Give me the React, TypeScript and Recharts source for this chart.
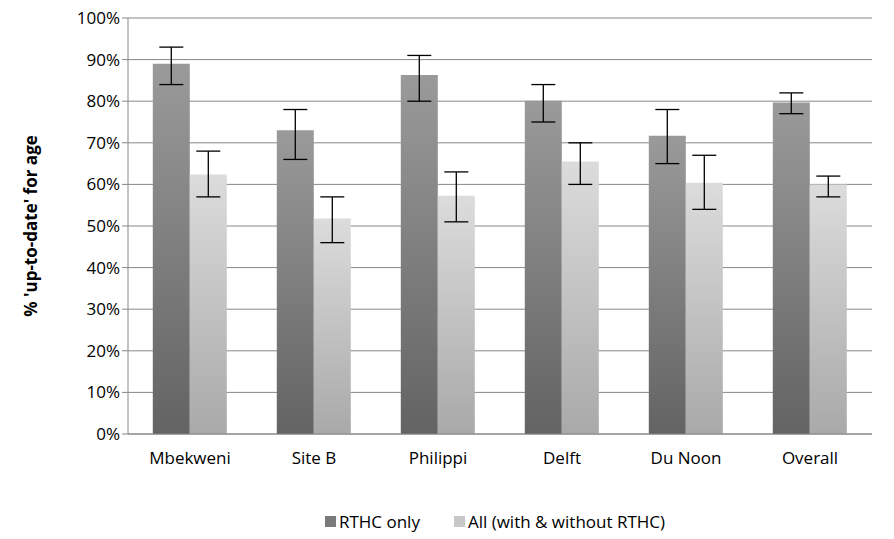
import React from 'react';
import { BarChart, Bar, XAxis, YAxis, CartesianGrid, Legend, ErrorBar } from 'recharts';

const categories = ['Mbekweni', 'Site B', 'Philippi', 'Delft', 'Du Noon', 'Overall'];
const rthc = [89, 73, 86.3, 80.1, 71.7, 79.7];
const rthcLow = [84, 66, 80, 75, 65, 77];
const rthcHigh = [93, 78, 91, 84, 78, 82];
const all = [62.4, 51.8, 57.3, 65.5, 60.4, 60];
const allLow = [57, 46, 51, 60, 54, 57];
const allHigh = [68, 57, 63, 70, 67, 62];
const yTicks = [0, 10, 20, 30, 40, 50, 60, 70, 80, 90, 100];
const legendNames = ['RTHC only', 'All (with & without RTHC)'];
const legendColors = ['#7a7a7a', '#c8c8c8'];

const data = categories.map((c, i) => ({
  name: c,
  rthc: rthc[i],
  rthcErr: [rthc[i] - rthcLow[i], rthcHigh[i] - rthc[i]],
  all: all[i],
  allErr: [all[i] - allLow[i], allHigh[i] - all[i]],
}));

const font = 'Open Sans, Liberation Sans, sans-serif';

const LegendContent = () => (
  <div style={{ display: 'flex', justifyContent: 'center', gap: 34, fontSize: 17, color: '#000', fontFamily: font, paddingLeft: 50 }}>
    {legendNames.map((n, i) => (
      <span key={n} style={{ display: 'flex', alignItems: 'center' }}>
        <span style={{ width: 11, height: 11, background: legendColors[i], display: 'inline-block', marginRight: 3 }} />
        {n}
      </span>
    ))}
  </div>
);

export default function App() {
  return (
    <div style={{ fontFamily: font }}>
      <BarChart width={886} height={531} data={data} margin={{ top: 10, right: 22, left: 60, bottom: 52 }}
        barCategoryGap="20%" barGap={0}>
        <defs>
          <linearGradient id="gd" x1="0" y1="0" x2="0" y2="1">
            <stop offset="0%" stopColor="#9a9a9a" />
            <stop offset="100%" stopColor="#636363" />
          </linearGradient>
          <linearGradient id="gl" x1="0" y1="0" x2="0" y2="1">
            <stop offset="0%" stopColor="#dcdcdc" />
            <stop offset="100%" stopColor="#a9a9a9" />
          </linearGradient>
        </defs>
        <CartesianGrid vertical={false} stroke="#888" />
        <XAxis dataKey="name" stroke="#888" tickLine={false} tick={{ fill: '#000', fontSize: 17, fontFamily: font }} tickMargin={12} />
        <YAxis domain={[0, 100]} ticks={yTicks} tickFormatter={(v) => `${v}%`} stroke="#888" width={60}
          tick={{ fill: '#000', fontSize: 17, fontFamily: font }}
          label={{ value: "% 'up-to-date' for age", angle: -90, position: 'insideLeft', offset: -37, style: { textAnchor: 'middle', fontWeight: 'bold', fontSize: 17, fill: '#000', fontFamily: font } }} />
        <Legend verticalAlign="bottom" content={<LegendContent />} wrapperStyle={{ bottom: 6 }} />
        <Bar dataKey="rthc" name="RTHC only" fill="url(#gd)" isAnimationActive={false}>
          <ErrorBar dataKey="rthcErr" width={12} stroke="#000" strokeWidth={1.3} />
        </Bar>
        <Bar dataKey="all" name="All (with & without RTHC)" fill="url(#gl)" isAnimationActive={false}>
          <ErrorBar dataKey="allErr" width={12} stroke="#000" strokeWidth={1.3} />
        </Bar>
      </BarChart>
    </div>
  );
}
